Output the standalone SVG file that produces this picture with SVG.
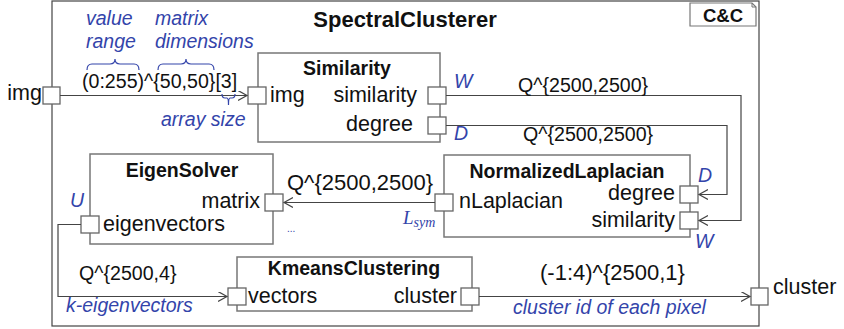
<svg xmlns="http://www.w3.org/2000/svg" width="844" height="329" viewBox="0 0 844 329">
<style>
text{font-family:"Liberation Sans",Arial,sans-serif;fill:#111}
.t{font-weight:bold;font-size:19.5px;text-anchor:middle}
.p{font-size:21.5px}
.e{text-anchor:end}
.d{font-size:19.6px}
.b{fill:#3344AA;font-style:italic;font-size:19.5px}
.box{fill:#fff;stroke:#777;stroke-width:1.5}
.port{fill:#fff;stroke:#666;stroke-width:1.3}
.c{fill:none;stroke:#444;stroke-width:1.2}
.br{fill:none;stroke:#3344AA;stroke-width:1.2}
</style>
<defs>
<marker id="a" markerUnits="userSpaceOnUse" markerWidth="12" markerHeight="12" refX="9" refY="5" orient="auto" viewBox="0 0 12 12">
<path d="M0,0 L9,5 L0,10" fill="none" stroke="#444" stroke-width="1.2"/>
</marker>
</defs>
<g id="SpectralClusterer">
<rect x="52" y="1" width="707" height="325" fill="#fff" stroke="#444" stroke-width="1.2"/>
<text x="405" y="27" style="font-weight:bold;font-size:22px;text-anchor:middle">SpectralClusterer</text>
<path d="M690,3 H752 L756,7 V26 H690 Z" fill="#fff" stroke="#777" stroke-width="1.2"/>
<path d="M752,3 V7 H756" fill="none" stroke="#777" stroke-width="1"/>
<text x="723" y="22" style="font-weight:bold;font-size:18.5px;text-anchor:middle">C&amp;C</text>
<rect class="port" x="43" y="87" width="17" height="17"/>
<text class="p e" x="42" y="100">img</text>
<rect class="port" x="751" y="288" width="17" height="17"/>
<text class="p" x="773" y="294">cluster</text>
</g>
<g id="Similarity">
<rect class="box" x="258" y="53" width="182" height="89"/>
<text class="t" x="347" y="75">Similarity</text>
<rect class="port" x="248" y="87" width="18" height="17"/>
<text class="p" x="270" y="102">img</text>
<rect class="port" x="428" y="87" width="18" height="17"/>
<text class="p e" x="417" y="102">similarity</text>
<rect class="port" x="428" y="117" width="18" height="17"/>
<text class="p e" x="413" y="131">degree</text>
<text class="b" x="454" y="88">W</text>
<text class="b" x="454" y="140">D</text>
</g>
<g id="NormalizedLaplacian">
<rect class="box" x="444" y="155" width="246" height="82"/>
<text class="t" x="567" y="178">NormalizedLaplacian</text>
<rect class="port" x="435" y="194" width="18" height="17"/>
<text class="p" x="459" y="208">nLaplacian</text>
<rect class="port" x="680" y="186" width="18" height="17"/>
<text class="p e" x="675" y="200">degree</text>
<rect class="port" x="680" y="212" width="18" height="17"/>
<text class="p e" x="675" y="227">similarity</text>
<text class="b" x="698" y="182">D</text>
<text class="b" x="695" y="248">W</text>
</g>
<g id="EigenSolver">
<rect class="box" x="90" y="154" width="183" height="90"/>
<text class="t" x="182" y="177">EigenSolver</text>
<rect class="port" x="265" y="194" width="18" height="17"/>
<text class="p e" x="260" y="208">matrix</text>
<rect class="port" x="81" y="216" width="18" height="17"/>
<text class="p" x="103" y="231">eigenvectors</text>
<text class="b" x="70" y="207">U</text>
<text x="287" y="232" style="fill:#3344AA;font-size:10px">...</text>
</g>
<g id="KmeansClustering">
<rect class="box" x="237" y="257" width="235" height="54"/>
<text class="t" x="354" y="275">KmeansClustering</text>
<rect class="port" x="228" y="288" width="18" height="17"/>
<text class="p" x="248" y="303">vectors</text>
<rect class="port" x="461" y="288" width="18" height="17"/>
<text class="p e" x="457" y="303">cluster</text>
</g>
<g id="connectors">
<path class="c" d="M60,95.5 H247" marker-end="url(#a)"/>
<path class="c" d="M446,95.5 H741 V220.5 H699" marker-end="url(#a)"/>
<path class="c" d="M446,125.5 H727 V194.5 H699" marker-end="url(#a)"/>
<path class="c" d="M435,202.5 H284" marker-end="url(#a)"/>
<path class="c" d="M81,224.5 H58 V296.5 H227" marker-end="url(#a)"/>
<path class="c" d="M479,296.5 H750" marker-end="url(#a)"/>
<text class="d" x="82" y="88">(0:255)^{50,50}[3]</text>
<text class="b" x="86" y="25">value</text>
<text class="b" x="86" y="48">range</text>
<text class="b" x="155" y="25">matrix</text>
<text class="b" x="155" y="48">dimensions</text>
<text class="b" x="161" y="126">array size</text>
<path class="br" d="M87,70 Q87,64 92,64 H110 Q115,64 115,59 Q115,64 120,64 H134 Q139,64 139,70"/>
<path class="br" d="M158,70 Q158,64 163,64 H181 Q186,64 186,59 Q186,64 191,64 H209 Q214,64 214,70"/>
<path class="br" d="M222,94 Q222,98 225,98 H227 Q228.5,98 228.5,105 Q228.5,98 230,98 H232 Q235,98 235,94"/>
<text class="d" x="518" y="92">Q^{2500,2500}</text>
<text class="d" x="523" y="141">Q^{2500,2500}</text>
<text x="287" y="190" style="font-size:22px">Q^{2500,2500}</text>
<text x="403" y="224" style="font-family:'Liberation Serif',serif;font-style:italic;font-size:19px;fill:#3344AA">L<tspan dy="3" style="font-size:14px">sym</tspan></text>
<text class="d" x="79" y="280">Q^{2500,4}</text>
<text class="b" x="66" y="312">k-eigenvectors</text>
<text x="540" y="280" style="font-size:22px">(-1:4)^{2500,1}</text>
<text class="b" x="513" y="314">cluster id of each pixel</text>
</g>
</svg>
